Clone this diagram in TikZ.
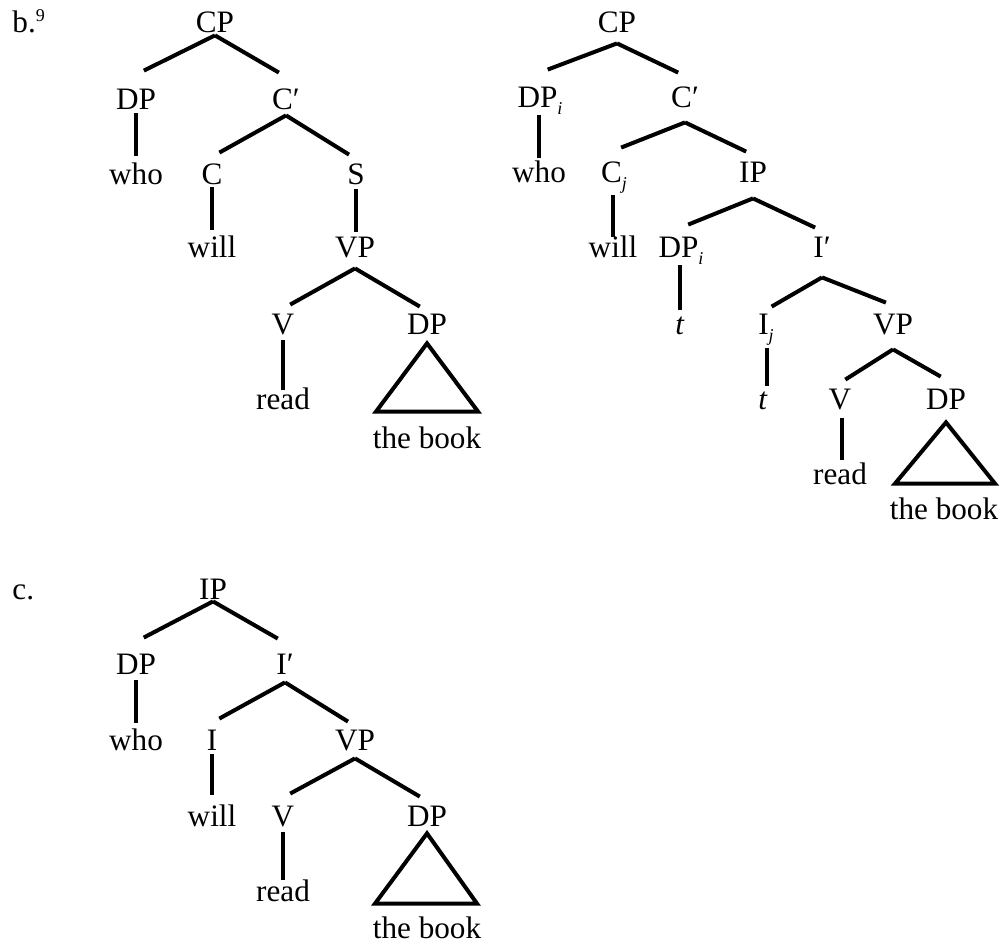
\documentclass[tikz,border=0pt]{standalone}
\usepackage{fontspec}
\setmainfont{Liberation Serif}
\usetikzlibrary{calc}
\newcommand{\idx}[1]{\raisebox{-3.5pt}{\fontsize{9}{9}\selectfont\itshape #1}}

\begin{document}
\begin{tikzpicture}[x=0.5pt,y=-0.5pt]
    % Define styles
    \tikzstyle{treenode} = [anchor=base, inner sep=0pt, text height=10.5pt, text depth=0pt, font=\fontsize{15.6}{18}\selectfont]
    \tikzstyle{edge} = [line width=2pt]
    \useasboundingbox (0,0) rectangle (1006,945);

    % Labels
    \node[treenode, anchor=base west] (lb) at (12,33) {b.\raisebox{5.5pt}{\fontsize{9}{9}\selectfont 9}};
    \node[treenode, anchor=base west] (lc) at (12,600) {c.};

    % Tree b, left
    \node[treenode] (bcp) at (215,33) {CP};
    \node[treenode] (bdp) at (136,110) {DP};
    \node[treenode] (bcbar) at (286,110) {C′};
    \node[treenode] (bwho) at (136,185) {who};
    \node[treenode] (bc) at (212,185) {C};
    \node[treenode] (bs) at (356,185) {S};
    \node[treenode] (bwill) at (212,258) {will};
    \node[treenode] (bvp) at (355,258) {VP};
    \node[treenode] (bv) at (283,335) {V};
    \node[treenode] (bdpo) at (427,335) {DP};
    \node[treenode] (bread) at (283,410) {read};
    \node[treenode] (bbook) at (427,449) {the book};

    \draw[edge] ($(bcp.south)+(0,2)$) -- ($(bdp.north)!.1!(bcp.south|-bdp.north)+(0,-18)$);
    \draw[edge] ($(bcp.south)+(0,2)$) -- ($(bcbar.north)!.1!(bcp.south|-bcbar.north)+(0,-16)$);
    \draw[edge] ($(bcbar.south)+(0,5)$) -- ($(bc.north)!.1!(bcbar.south|-bc.north)+(0,-11)$);
    \draw[edge] ($(bcbar.south)+(0,5)$) -- ($(bs.north)!.1!(bcbar.south|-bs.north)+(0,-9)$);
    \draw[edge] ($(bvp.south)+(0,10)$) -- ($(bv.north)!.1!(bvp.south|-bv.north)+(0,-9)$);
    \draw[edge] ($(bvp.south)+(0,10)$) -- ($(bdpo.north)!.1!(bvp.south|-bdpo.north)+(0,-7)$);
    \draw[edge] ($(bdp.south)+(0,3)$) -- ($(bdp.south|-bwho.north)+(0,-8)$);
    \draw[edge] ($(bc.south)+(0,2)$) -- ($(bc.south|-bwill.north)+(0,-7)$);
    \draw[edge] ($(bs.south)+(0,4)$) -- ($(bs.south|-bvp.north)+(0,-5)$);
    \draw[edge] ($(bv.south)+(0,5)$) -- ($(bv.south|-bread.north)+(0,1)$);
    \draw[edge] ($(bdpo.south)+(0,8)$) -- ($(bbook.north)+(-51,-16)$) -- ($(bbook.north)+(51,-16)$) -- cycle;

    % Tree b, right
    \node[treenode] (rcp) at (617,33) {CP};
    \node[treenode] (rdpi) at (540,108) {DP\idx{i}};
    \node[treenode] (rcbar) at (685,108) {C′};
    \node[treenode] (rwho) at (539,183) {who};
    \node[treenode] (rcj) at (614,183) {C\idx{j}};
    \node[treenode] (rip) at (753,183) {IP};
    \node[treenode] (rwill) at (613,258) {will};
    \node[treenode] (rdpii) at (681,258) {DP\idx{i}};
    \node[treenode] (ribar) at (822,258) {I′};
    \node[treenode] (rt) at (680,335) {\textit{t}};
    \node[treenode] (rij) at (766,335) {I\idx{j}};
    \node[treenode] (rvp) at (893,335) {VP};
    \node[treenode] (rtt) at (763,410) {\textit{t}};
    \node[treenode] (rv) at (840,410) {V};
    \node[treenode] (rdp) at (946,410) {DP};
    \node[treenode] (rread) at (840,485) {read};
    \node[treenode] (rbook) at (944,520) {the book};

    \draw[edge] ($(rcp.south)+(0,10)$) -- ($(rdpi.north)!.1!(rcp.south|-rdpi.north)+(0,-17)$);
    \draw[edge] ($(rcp.south)+(0,10)$) -- ($(rcbar.north)!.1!(rcp.south|-rcbar.north)+(0,-14)$);
    \draw[edge] ($(rcbar.south)+(0,14)$) -- ($(rcj.north)!.1!(rcbar.south|-rcj.north)+(0,-14)$);
    \draw[edge] ($(rcbar.south)+(0,14)$) -- ($(rip.north)!.1!(rcbar.south|-rip.north)+(0,-10)$);
    \draw[edge] ($(rip.south)+(0,15)$) -- ($(rdpii.north)!.1!(rip.south|-rdpii.north)+(0,-12)$);
    \draw[edge] ($(rip.south)+(0,15)$) -- ($(ribar.north)!.1!(rip.south|-ribar.north)+(0,-9)$);
    \draw[edge] ($(ribar.south)+(0,19)$) -- ($(rij.north)!.1!(ribar.south|-rij.north)+(0,-7)$);
    \draw[edge] ($(ribar.south)+(0,19)$) -- ($(rvp.north)!.1!(ribar.south|-rvp.north)+(0,-11)$);
    \draw[edge] ($(rvp.south)+(0,14)$) -- ($(rv.north)!.1!(rvp.south|-rv.north)+(0,-9)$);
    \draw[edge] ($(rvp.south)+(0,14)$) -- ($(rdp.north)!.1!(rvp.south|-rdp.north)+(0,-12)$);
    \draw[edge] ($(rdpi.south)+(-1,7)$) -- ($(rdpi.south|-rwho.north)+(-1,-4)$);
    \draw[edge] ($(rcj.south)+(-1,12)$) -- ($(rcj.south|-rwill.north)+(-1,0)$);
    \draw[edge] ($(rdpii.south)+(-1,7)$) -- ($(rdpii.south|-rt.north)+(-1,-4)$);
    \draw[edge] ($(rij.south)+(1,13)$) -- ($(rij.south|-rtt.north)+(1,-3)$);
    \draw[edge] ($(rv.south)+(2,8)$) -- ($(rv.south|-rread.north)+(2,-4)$);
    \draw[edge] ($(rdp.south)+(0,12)$) -- ($(rbook.north)+(-49,-15)$) -- ($(rbook.north)+(51,-15)$) -- cycle;

    % Tree c
    \node[treenode] (cip) at (213,600) {IP};
    \node[treenode] (cdp) at (136,675) {DP};
    \node[treenode] (cibar) at (285,675) {I′};
    \node[treenode] (cwho) at (136,750) {who};
    \node[treenode] (ci) at (212,750) {I};
    \node[treenode] (cvp) at (355,750) {VP};
    \node[treenode] (cwill) at (212,826) {will};
    \node[treenode] (cv) at (283,826) {V};
    \node[treenode] (cdpo) at (427,826) {DP};
    \node[treenode] (cread) at (283,901) {read};
    \node[treenode] (cbook) at (427,938) {the book};

    \draw[edge] ($(cip.south)+(0,1)$) -- ($(cdp.north)!.1!(cip.south|-cdp.north)+(0,-16)$);
    \draw[edge] ($(cip.south)+(0,1)$) -- ($(cibar.north)!.1!(cip.south|-cibar.north)+(0,-15)$);
    \draw[edge] ($(cibar.south)+(0,7)$) -- ($(ci.north)!.1!(cibar.south|-ci.north)+(0,-10)$);
    \draw[edge] ($(cibar.south)+(0,7)$) -- ($(cvp.north)!.1!(cibar.south|-cvp.north)+(0,-7)$);
    \draw[edge] ($(cvp.south)+(0,8)$) -- ($(cv.north)!.1!(cvp.south|-cv.north)+(0,-11)$);
    \draw[edge] ($(cvp.south)+(0,8)$) -- ($(cdpo.north)!.1!(cvp.south|-cdpo.north)+(0,-8)$);
    \draw[edge] ($(cdp.south)+(0,5)$) -- ($(cdp.south|-cwho.north)+(0,-6)$);
    \draw[edge] ($(ci.south)+(0,4)$) -- ($(ci.south|-cwill.north)+(0,-10)$);
    \draw[edge] ($(cv.south)+(0,6)$) -- ($(cv.south|-cread.north)+(0,0)$);
    \draw[edge] ($(cdpo.south)+(0,7)$) -- ($(cbook.north)+(-52,-13)$) -- ($(cbook.north)+(50,-13)$) -- cycle;
\end{tikzpicture}
\end{document}
